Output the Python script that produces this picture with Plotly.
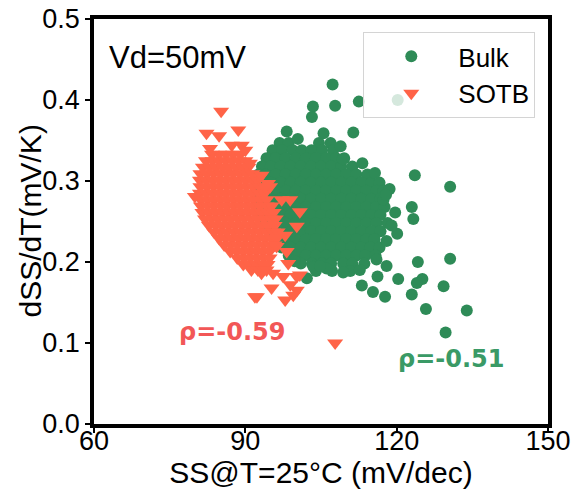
import plotly.graph_objects as go

# ---------------- data ----------------
# Bulk: dense core, stored as rows {dSS/dT value: [SS values]}
BULK_CORE_ROWS = {
    0.347: [96.8, 98.6, 104.6, 106.9],
    0.338: [95.4, 97.3, 99.4, 101.2, 103.1, 105.2, 107.4],
    0.328: [94.2, 96.0, 98.0, 100.0, 102.0, 104.0, 106.0, 108.0, 109.6],
    0.318: [93.3, 95.0, 97.0, 99.0, 101.0, 103.0, 105.0, 107.0, 109.0, 111.2],
    0.308: [92.6, 94.0, 96.0, 98.0, 100.0, 102.0, 104.0, 106.0, 108.0, 110.0, 112.0, 114.2],
    0.298: [92.5, 95.0, 97.0, 99.0, 101.0, 103.0, 105.0, 107.0, 109.0, 111.0, 113.0, 115.0, 116.6],
    0.288: [92.2, 94.0, 96.0, 98.0, 100.0, 102.0, 104.0, 106.0, 108.0, 110.0, 112.0, 114.0, 116.0, 117.4],
    0.278: [92.6, 95.0, 97.0, 99.0, 101.0, 103.0, 105.0, 107.0, 109.0, 111.0, 113.0, 115.0, 116.8],
    0.268: [93.0, 94.0, 96.0, 98.0, 100.0, 102.0, 104.0, 106.0, 108.0, 110.0, 112.0, 114.0, 116.0, 117.6],
    0.258: [93.5, 95.0, 97.0, 99.0, 101.0, 103.0, 105.0, 107.0, 109.0, 111.0, 113.0, 115.0, 116.8],
    0.248: [94.0, 96.0, 98.0, 100.0, 102.0, 104.0, 106.0, 108.0, 110.0, 112.0, 114.0, 116.0, 118.2],
    0.238: [95.0, 97.0, 99.0, 101.0, 103.0, 105.0, 107.0, 109.0, 111.0, 113.0, 115.0, 116.8],
    0.228: [96.0, 98.0, 100.0, 102.0, 104.0, 106.0, 108.0, 110.0, 112.0, 114.0, 115.6],
    0.218: [97.2, 99.0, 101.0, 103.0, 105.0, 107.0, 109.0, 111.0, 113.0, 114.8, 116.6],
    0.208: [98.6, 100.4, 102.0, 104.0, 106.0, 108.0, 110.0, 112.0, 113.8, 115.8],
    0.198: [101.0, 103.2, 105.2, 107.0, 109.4, 111.2, 113.6],
    0.189: [104.0, 107.2, 110.8],
}
# Bulk: scattered points around the core
BULK_SS = [107.3, 103.4, 103.2, 107.8, 112.5, 111.4, 98.2, 105.5, 120.2, 123.6,
           130.6, 109.3, 123.0, 123.3, 120.1, 124.2, 130.6, 120.3, 125.1, 124.0,
           123.0, 129.3, 125.8, 133.9, 129.7, 117.7, 115.3, 113.1, 116.2, 118.0,
           119.7, 117.4, 103.5, 102.2, 106.1, 115.7, 118.6, 116.0, 118.0, 112.7,
           109.4, 104.8, 100.4, 108.9, 113.2, 119.0, 117.9, 99.8]
BULK_DSS = [0.419, 0.392, 0.379, 0.393, 0.398, 0.360, 0.361, 0.359, 0.400, 0.307,
            0.293, 0.327, 0.268, 0.253, 0.235, 0.200, 0.204, 0.179, 0.179, 0.174,
            0.160, 0.170, 0.142, 0.140, 0.113, 0.157, 0.163, 0.171, 0.182, 0.226,
            0.261, 0.277, 0.194, 0.180, 0.192, 0.310, 0.290, 0.203, 0.195, 0.190,
            0.187, 0.195, 0.352, 0.343, 0.322, 0.245, 0.283, 0.201]

# SOTB: dense core rows
SOTB_CORE_ROWS = {
    0.333: [83.4, 84.8, 86.2, 87.6, 89.0],
    0.325: [82.2, 83.5, 84.8, 86.1, 87.4, 88.7, 90.0],
    0.317: [81.6, 82.9, 84.2, 85.5, 86.8, 88.1, 89.4, 90.6],
    0.309: [81.1, 82.4, 83.7, 85.0, 86.3, 87.6, 88.9, 90.2, 91.4],
    0.301: [81.0, 82.3, 83.6, 84.9, 86.2, 87.5, 88.8, 90.1, 91.4, 92.4],
    0.293: [81.1, 82.4, 83.7, 85.0, 86.3, 87.6, 88.9, 90.2, 91.5, 92.8],
    0.285: [81.0, 82.3, 83.6, 84.9, 86.2, 87.5, 88.8, 90.1, 91.4, 92.7, 93.8],
    0.277: [81.2, 82.5, 83.8, 85.1, 86.4, 87.7, 89.0, 90.3, 91.6, 92.9, 94.2],
    0.269: [81.2, 82.5, 83.8, 85.1, 86.4, 87.7, 89.0, 90.3, 91.6, 92.9, 94.2, 95.2],
    0.261: [81.5, 82.8, 84.1, 85.4, 86.7, 88.0, 89.3, 90.6, 91.9, 93.2, 94.5, 95.6],
    0.253: [82.0, 83.3, 84.6, 85.9, 87.2, 88.5, 89.8, 91.1, 92.4, 93.7, 95.0, 96.0],
    0.245: [82.8, 84.1, 85.4, 86.7, 88.0, 89.3, 90.6, 91.9, 93.2, 94.5, 95.8],
    0.237: [83.8, 85.1, 86.4, 87.7, 89.0, 90.3, 91.6, 92.9, 94.2, 95.5, 96.4],
    0.229: [84.8, 86.1, 87.4, 88.7, 90.0, 91.3, 92.6, 93.9, 95.2, 96.2],
    0.221: [85.8, 87.1, 88.4, 89.7, 91.0, 92.3, 93.6, 94.9, 95.8],
    0.213: [87.0, 88.3, 89.6, 90.9, 92.2, 93.5, 94.8],
    0.205: [88.4, 89.7, 91.0, 92.3, 93.6, 94.8],
    0.197: [89.6, 90.9, 92.2, 93.5, 94.4],
    0.190: [91.2, 92.5, 93.6],
}
# SOTB: scattered points
SOTB_SS = [85.2, 82.3, 84.8, 88.6, 87.3, 89.3, 90.9, 80.0, 92.9, 94.9,
           97.2, 98.9, 100.8, 100.2, 97.9, 96.2, 98.2, 98.5, 93.9, 95.5,
           94.2, 97.5, 100.2, 95.2, 98.9, 100.2, 92.3, 97.9, 99.5, 107.8,
           93.2, 91.9, 93.2, 94.5, 93.9, 100.8, 83.0, 90.0]
SOTB_DSS = [0.386, 0.359, 0.356, 0.363, 0.344, 0.344, 0.322, 0.281, 0.305, 0.293,
            0.277, 0.277, 0.262, 0.244, 0.233, 0.219, 0.213, 0.198, 0.196, 0.186,
            0.190, 0.182, 0.182, 0.168, 0.172, 0.165, 0.157, 0.153, 0.159, 0.100,
            0.186, 0.157, 0.307, 0.297, 0.293, 0.184, 0.340, 0.338]

X_TICKS = [60, 90, 120, 150]
Y_TICKS = [0.0, 0.1, 0.2, 0.3, 0.4, 0.5]
RHO_SOTB = "ρ=-0.59"
RHO_BULK = "ρ=-0.51"

# ---------------- assemble point lists ----------------
bulk_x, bulk_y = [], []
for yv, xs in BULK_CORE_ROWS.items():
    bulk_x += xs
    bulk_y += [yv] * len(xs)
bulk_x += BULK_SS
bulk_y += BULK_DSS

sotb_x, sotb_y = [], []
for yv, xs in SOTB_CORE_ROWS.items():
    sotb_x += xs
    sotb_y += [yv] * len(xs)
sotb_x += SOTB_SS
sotb_y += SOTB_DSS

GREEN = "#2E8B57"
RED = "#FF6347"
FONT = "Liberation Sans, Arial, sans-serif"

fig = go.Figure()
fig.add_trace(go.Scatter(x=bulk_x, y=bulk_y, mode="markers", name="Bulk",
                         marker=dict(symbol="circle", size=12, color=GREEN, line=dict(width=0))))
fig.add_trace(go.Scatter(x=sotb_x, y=sotb_y, mode="markers", name="SOTB",
                         marker=dict(symbol="triangle-down", size=14, color=RED, line=dict(width=0))))

fig.add_annotation(x=62.6, y=0.452, xref="x", yref="y", text="Vd=50mV", showarrow=False,
                   xanchor="left", yanchor="middle", font=dict(family=FONT, size=31, color="black"))
fig.add_annotation(x=87.3, y=0.114, xref="x", yref="y", text=RHO_SOTB, showarrow=False,
                   xanchor="center", yanchor="middle",
                   font=dict(family="DejaVu Sans", size=24, color="#F25757", weight="bold"))
fig.add_annotation(x=130.7, y=0.080, xref="x", yref="y", text=RHO_BULK, showarrow=False,
                   xanchor="center", yanchor="middle",
                   font=dict(family="DejaVu Sans", size=24, color="#3A9A66", weight="bold"))
# y-axis title
fig.add_annotation(x=0, y=0.5, xref="paper", yref="paper", xshift=-64, text="dSS/dT(mV/K)",
                   textangle=-90, showarrow=False, xanchor="center", yanchor="middle",
                   font=dict(family=FONT, size=30, color="black"))

axis_common = dict(showline=True, linewidth=3.5, linecolor="black", mirror=True,
                   ticks="outside", ticklen=5, tickwidth=1.5, tickcolor="black",
                   showgrid=False, zeroline=False,
                   tickfont=dict(family=FONT, size=27, color="black"))

fig.update_xaxes(range=[60, 150], tickvals=X_TICKS, ticktext=[str(v) for v in X_TICKS],
                 ticklabelstandoff=-15,
                 title=dict(text="SS@T=25°C (mV/dec)", font=dict(family=FONT, size=30, color="black"),
                            standoff=2),
                 **axis_common)
fig.update_yaxes(range=[0, 0.5], tickvals=Y_TICKS, ticktext=[f"{v:.1f}" for v in Y_TICKS],
                 **axis_common)

fig.update_layout(
    width=576, height=500,
    margin=dict(l=94, r=28, t=19, b=76, autoexpand=False),
    plot_bgcolor="white", paper_bgcolor="white",
    showlegend=True,
    legend=dict(x=0.972, y=0.968, xanchor="right", yanchor="top",
                bgcolor="rgba(255,255,255,0.8)", bordercolor="#d4d4d4", borderwidth=1,
                font=dict(family=FONT, size=26, color="black"), itemwidth=84,
                tracegroupgap=0),
)

fig.write_html("out.html")
